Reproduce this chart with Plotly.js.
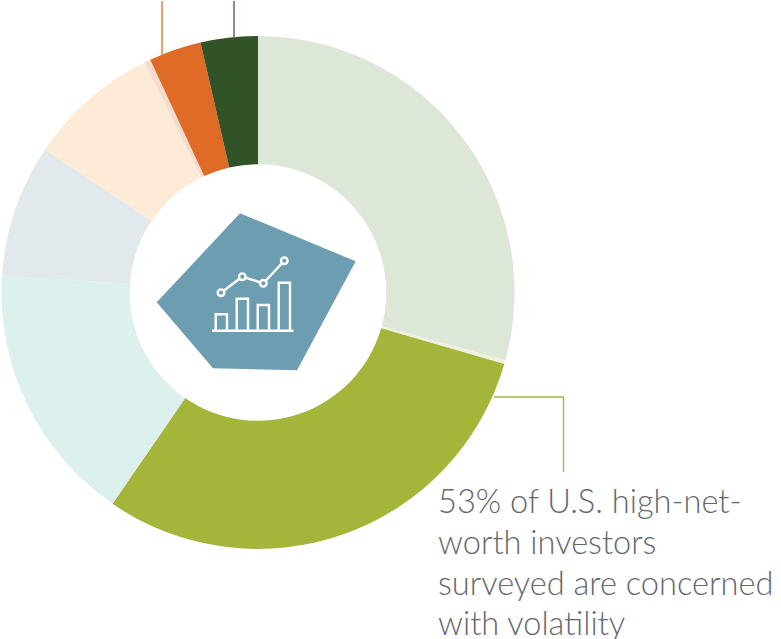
<!DOCTYPE html>
<html>
<head>
<meta charset="utf-8">
<script src="https://cdn.plot.ly/plotly-3.0.1.min.js"></script>
<style>html,body{margin:0;padding:0;background:#fff;overflow:hidden}#chart{width:781px;height:639px}</style>
</head>
<body>
<div id="chart"></div>
<script>
const W = 781, H = 639;
const sliceNames = ["Volatility-adjacent","Thin divider","Volatility","Teal","Gray","Cream","Thin pink","Orange","Dark green"];
const sliceValues = [29.25, 0.25, 30.1, 16.45, 8.35, 8.3, 0.4, 3.3, 3.6];
const sliceColors = ["#dde7d8","#eef1de","#a4b53a","#dcf1ee","#e1e9ec","#fdebd7","#f6dccd","#e06b26","#325227"];
const noteLines = ["53% of U.S. high-net-","worth investors","surveyed are concerned","with volatility"];
const noteBaselines = [512, 553, 594, 634];

const px = x => x / W, py = y => 1 - y / H;
const poly = pts => "M" + pts.map(p => px(p[0]) + "," + py(p[1])).join("L") + "Z";
const openPath = pts => "M" + pts.map(p => px(p[0]) + "," + py(p[1])).join("L");
const pathShape = (path, color, width, fill) => ({type:"path", xref:"paper", yref:"paper", path,
  line:{color, width}, fillcolor: fill || "rgba(0,0,0,0)"});

const badge = [[240,213.3],[355.7,261.3],[297,370.3],[213,368.3],[156.7,302.3]];
const iconBars = [[215.7,314.3],[236.7,298.7],[257.7,305],[278.7,282.7]];
const iconBarWidth = 11.3, iconBase = 330.7;
const iconPoints = [[221,292.7],[242.3,276.7],[263.3,283.3],[284.3,260.7]];

const shapes = [
  pathShape(poly(badge), "#6d9db1", 0, "#6d9db1"),
  pathShape(openPath([[494,397],[563.5,397],[563.5,472]]), "#a4b53a", 1.3),
  pathShape(openPath([[162,1],[162,56]]), "#e07a3c", 1.4),
  pathShape(openPath([[234,1],[234,37]]), "#3f5a38", 1.3),
  pathShape(openPath([[212,330.7],[293.5,330.7]]), "#ffffff", 2.4),
  pathShape(openPath(iconPoints), "#ffffff", 2.4)
];
iconBars.forEach(b => shapes.push(pathShape(openPath([[b[0],iconBase],[b[0],b[1]],[b[0]+iconBarWidth,b[1]],[b[0]+iconBarWidth,iconBase]]), "#ffffff", 2.4)));
iconPoints.forEach(p => shapes.push({type:"circle", xref:"paper", yref:"paper",
  x0:px(p[0]-3.3), x1:px(p[0]+3.3), y0:py(p[1]+3.3), y1:py(p[1]-3.3),
  line:{color:"#ffffff", width:2.4}, fillcolor:"#6d9db1"}));

const annotations = noteLines.map((t,i) => ({
  text:t, xref:"paper", yref:"paper", x:px(437), y:py(noteBaselines[i]+9),
  xanchor:"left", yanchor:"bottom", showarrow:false, align:"left",
  borderpad:0, font:{family:"Lato, sans-serif", size:32.6, color:"#66676e", weight:300}
}));

Plotly.newPlot("chart", [{
  type:"pie", labels:sliceNames, values:sliceValues, hole:0.5, sort:false, direction:"clockwise", rotation:0,
  textinfo:"none", hoverinfo:"skip", showlegend:false,
  marker:{colors:sliceColors, line:{width:0}},
  domain:{x:[px(1.5), px(514.5)], y:[py(549), py(36)]}
}], {
  width:W, height:H, margin:{l:0,r:0,t:0,b:0}, paper_bgcolor:"#fff", plot_bgcolor:"#fff",
  showlegend:false, shapes, annotations
}, {displayModeBar:false, staticPlot:true});
</script>
</body>
</html>
